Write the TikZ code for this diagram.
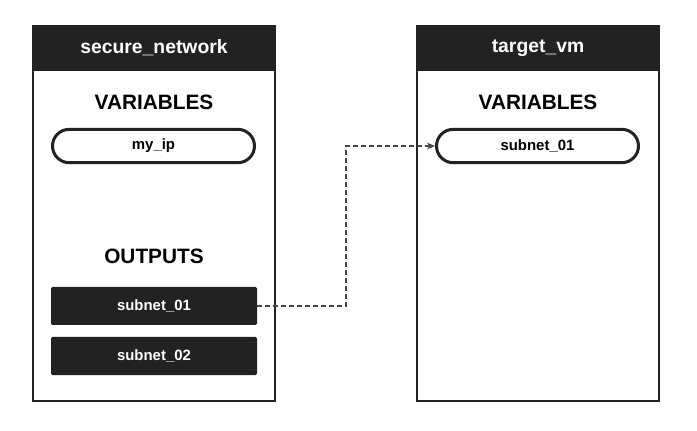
\documentclass[tikz,border=0pt]{standalone}
\usepackage{fontspec}
\setmainfont{Liberation Sans}
\usetikzlibrary{shapes.misc,arrows.meta}
\definecolor{dark}{HTML}{222222}
\definecolor{dashgray}{HTML}{444444}
\tikzset{
  modbox/.style={draw=dark, line width=1.5pt, minimum width=181.5pt, minimum height=281.25pt, inner sep=0pt},
  headbox/.style={fill=dark, draw=dark, line width=1.5pt, minimum width=181.5pt, minimum height=33pt, inner sep=0pt, text=white, font=\bfseries\fontsize{14.5}{16}\selectfont},
  sectitle/.style={font=\bfseries\fontsize{15.6}{18}\selectfont, text=black},
  pill/.style={rounded rectangle, draw=dark, line width=2.25pt, minimum width=151.5pt, minimum height=25pt, inner sep=0pt, font=\bfseries\fontsize{11.2}{13}\selectfont},
  outbox/.style={fill=dark, rounded corners=1pt, minimum width=154.5pt, minimum height=28.5pt, inner sep=0pt, text=white, font=\bfseries\fontsize{11.2}{13}\selectfont},
  link/.style={draw=dashgray, line width=0.8pt, dash pattern=on 3.5pt off 2.5pt, -{Stealth[length=6pt,width=5pt,inset=2pt]}}
}
\begin{document}
\begin{tikzpicture}[x=0.75pt,y=-0.75pt]
\useasboundingbox (0,0) rectangle (697,431);
% left module
\node[modbox] (left) at (154,213.5) {};
\node[headbox] (lefthead) at (154,48) {secure\_network};
\node[sectitle] (leftvars) at (154,102) {VARIABLES};
\node[pill] (myip) at (153.5,146) {my\_ip};
\node[sectitle] (leftouts) at (154,256) {OUTPUTS};
\node[outbox] (out1) at (154,306) {subnet\_01};
\node[outbox] (out2) at (154,356) {subnet\_02};
% right module
\node[modbox] (right) at (538,213.5) {};
\node[headbox] (righthead) at (538,48) {target\_vm};
\node[sectitle] (rightvars) at (538,102) {VARIABLES};
\node[pill] (tvsub) at (537.5,146) {subnet\_01};
% connector
\coordinate (bend) at (346,306);
\draw[link] (out1.east) -- (bend) |- (tvsub.west);
\end{tikzpicture}
\end{document}
